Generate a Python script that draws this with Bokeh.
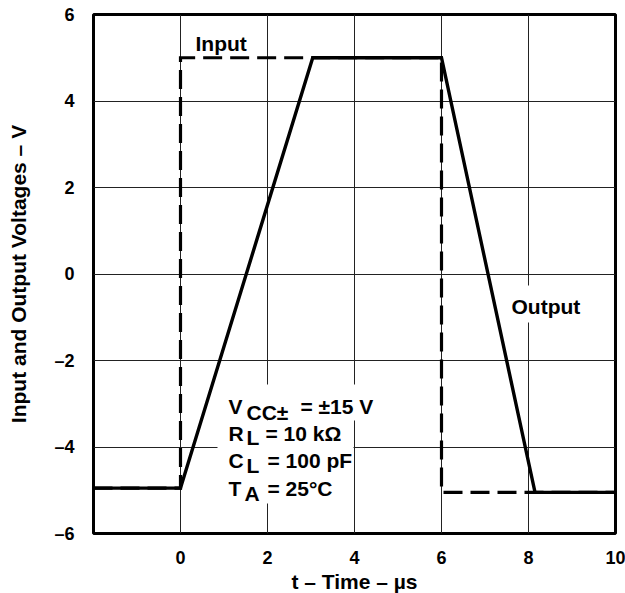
from bokeh.plotting import figure
from bokeh.models import FixedTicker, Label, BoxAnnotation
from bokeh.embed import file_html
from bokeh.resources import INLINE

# ---- data ----
time_input = [-2, 0, 0, 6, 6, 10]
volt_input = [-4.95, -4.95, 5.0, 5.0, -5.05, -5.05]
time_output = [-2, 0, 3.04, 6, 8.15, 10]
volt_output = [-4.95, -4.95, 5.0, 5.0, -5.05, -5.05]
x_ticks = [0, 2, 4, 6, 8, 10]
y_ticks = [-6, -4, -2, 0, 2, 4, 6]
y_tick_labels = {-6: "–6", -4: "–4", -2: "–2", 0: "0", 2: "2", 4: "4", 6: "6"}

FONT = "Liberation Sans"

# frame geometry in page pixels (for placing annotations)
FL, FR, FT, FB = 93, 615, 14, 533
XMIN, XMAX, YMIN, YMAX = -2, 10, -6, 6


def px2x(px):
    return XMIN + (px - FL) / (FR - FL) * (XMAX - XMIN)


def py2y(py):
    return YMAX - (py - FT) / (FB - FT) * (YMAX - YMIN)


p = figure(frame_width=FR - FL, frame_height=FB - FT,
           x_range=(XMIN, XMAX), y_range=(YMIN, YMAX),
           output_backend="svg", toolbar_location=None,
           min_border_left=FL, min_border_top=FT, min_border_right=10,
           min_border_bottom=5)
p.background_fill_color = "white"
p.border_fill_color = "white"
p.outline_line_color = "black"
p.outline_line_width = 3

for ax in (p.xaxis, p.yaxis):
    ax.axis_line_color = None
    ax.major_tick_line_color = None
    ax.minor_tick_line_color = None
    ax.major_label_text_font = FONT
    ax.major_label_text_font_style = "bold"
    ax.major_label_text_font_size = "18px"
    ax.major_label_text_color = "black"
    ax.axis_label_text_font = FONT
    ax.axis_label_text_font_style = "bold"
    ax.axis_label_text_font_size = "21px"
    ax.axis_label_text_color = "black"

p.xaxis.ticker = FixedTicker(ticks=x_ticks)
p.yaxis.ticker = FixedTicker(ticks=y_ticks)
p.yaxis.major_label_overrides = y_tick_labels
p.xaxis.major_label_standoff = 11
p.yaxis.major_label_standoff = 13
p.xaxis.axis_label = "t – Time – µs"
p.yaxis.axis_label = "Input and Output Voltages – V"
p.xaxis.axis_label_standoff = 3
p.yaxis.axis_label_standoff = 21

p.xgrid.ticker = FixedTicker(ticks=x_ticks)
p.ygrid.ticker = FixedTicker(ticks=y_ticks)
for g in (p.xgrid, p.ygrid):
    g.grid_line_color = "#222222"
    g.grid_line_width = 1

# white backgrounds behind the texts (they interrupt the grid)
boxes = [
    (505, 585, 285, 322),   # Output
    (222, 372, 384, 420),   # first annotation line
    (217, 353, 420, 503),   # remaining annotation lines
]
for l, r, t, b in boxes:
    p.add_layout(BoxAnnotation(left=px2x(l), right=px2x(r), top=py2y(t), bottom=py2y(b),
                               fill_color="white", fill_alpha=1.0, line_alpha=0,
                               level="underlay"))

p.line(time_input, volt_input, line_color="black", line_width=3.2, line_dash="19 8",
       line_join="miter")
p.line(time_output, volt_output, line_color="black", line_width=3.4, line_join="miter")


def add_text(txt, px, py, size="21px"):
    # px: left edge, py: vertical centre of the capitals (page pixels)
    p.add_layout(Label(x=px2x(px), y=py2y(py), text=txt, text_font=FONT,
                       text_font_style="bold", text_font_size=size,
                       text_color="black", text_align="left",
                       text_baseline="middle"))


add_text("Input", 195, 42.5)
add_text("Output", 511, 306)

add_text("V", 228, 405.5)
add_text("CC±", 246, 411.5)
add_text("= ±15 V", 300, 405.5)
add_text("R", 228, 432.5)
add_text("L", 246, 437)
add_text("= 10 kΩ", 265, 432.5)
add_text("C", 228, 459.5)
add_text("L", 246, 464.5)
add_text("= 100 pF", 267, 459.5)
add_text("T", 228, 487.5)
add_text("A", 244, 492.5)
add_text("= 25°C", 267, 487.5)

open("out.html", "w").write(file_html(p, INLINE))
